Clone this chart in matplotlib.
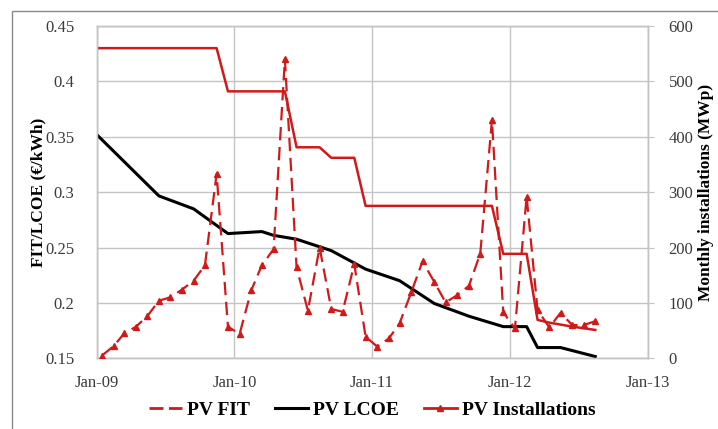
import matplotlib
matplotlib.use("Agg")
import matplotlib.pyplot as plt
import matplotlib.dates as mdates
from matplotlib.lines import Line2D
from matplotlib.patches import Rectangle
import pandas as pd

plt.rcParams['font.family'] = ['Liberation Serif', 'DejaVu Serif']

# ---- data ----
inst_dates = pd.date_range('2009-01-01', '2012-08-01', freq='MS') + pd.Timedelta(days=14)
inst_mw = [5, 22, 45, 57, 76, 104, 110, 124, 140, 168,
           333, 57, 44, 123, 168, 197, 540, 164, 86, 200,
           89, 84, 170, 39, 21, 36, 63, 119, 175, 138,
           101, 114, 131, 189, 430, 83, 54, 292, 87, 56,
           82, 60, 60, 67]

fit_dates = ['2009-01-01', '2009-11-15', '2009-12-15', '2010-05-15', '2010-06-15',
             '2010-08-15', '2010-09-15', '2010-11-15', '2010-12-15', '2011-11-15',
             '2011-12-15', '2012-02-15', '2012-03-15', '2012-04-15', '2012-06-15',
             '2012-08-15']
fit_vals = [0.430, 0.430, 0.391, 0.391, 0.3405,
            0.3405, 0.331, 0.331, 0.2876, 0.2876,
            0.2443, 0.2443, 0.1847, 0.1822, 0.1786,
            0.1756]

lcoe_dates = ['2009-01-01', '2009-06-15', '2009-09-15', '2009-12-15', '2010-03-15',
              '2010-04-15', '2010-06-15', '2010-09-15', '2010-12-15', '2011-03-15',
              '2011-06-15', '2011-09-15', '2011-12-15', '2012-02-15', '2012-03-15',
              '2012-05-15', '2012-08-15']
lcoe_vals = [0.352, 0.2966, 0.2849, 0.2626, 0.2644,
             0.2610, 0.2575, 0.2472, 0.2305, 0.2201,
             0.1995, 0.188, 0.1786, 0.1786, 0.1597,
             0.1597, 0.1516]

left_ticks = [0.15, 0.2, 0.25, 0.3, 0.35, 0.4, 0.45]
left_labels = ['0.15', '0.2', '0.25', '0.3', '0.35', '0.4', '0.45']
right_ticks = [0, 100, 200, 300, 400, 500, 600]
year_ticks = ['2009-01-01', '2010-01-01', '2011-01-01', '2012-01-01', '2013-01-01']

RED = '#d01a1a'
GRID = '#c4c4c4'
TXT = '#3a3a3a'

W, H = 718, 429
fig = plt.figure(figsize=(W / 100, H / 100), dpi=100)
ax = fig.add_axes([96.7 / W, 1 - 358.3 / H, (647.7 - 96.7) / W, (358.3 - 26) / H])
ax2 = ax.twinx()

ax.set_xlim(pd.Timestamp('2009-01-01'), pd.Timestamp('2013-01-01'))
ax.set_ylim(0.15, 0.45)
ax2.set_ylim(0, 600)

ax.set_xticks(pd.to_datetime(year_ticks))
ax.xaxis.set_major_formatter(mdates.DateFormatter('%b-%y'))
ax.set_yticks(left_ticks)
ax.set_yticklabels(left_labels)
ax2.set_yticks(right_ticks)

ax.grid(True, color=GRID, lw=1)
ax.set_axisbelow(True)
for a in (ax, ax2):
    for s in a.spines.values():
        s.set_color(GRID)
        s.set_linewidth(1)

ax.tick_params(axis='both', length=0, labelsize=12, labelcolor=TXT)
ax.tick_params(axis='y', pad=16)
ax.tick_params(axis='x', pad=12)
ax2.tick_params(axis='y', length=4, color=GRID, labelsize=12, labelcolor=TXT, pad=11)

ax.plot(pd.to_datetime(fit_dates), fit_vals, color=RED, lw=1.8, zorder=3)
ax.plot(pd.to_datetime(lcoe_dates), lcoe_vals, color='black', lw=2.2, zorder=3)
ax2.plot(inst_dates, inst_mw, color=RED, lw=1.6, ls=(0, (6, 3)), marker='^',
         markersize=5, zorder=4)

ax.set_ylabel('FIT/LCOE (€/kWh)', fontsize=12.5, fontweight='bold', labelpad=-1)
ax2.set_ylabel('Monthly installations (MWp)', fontsize=12.5, fontweight='bold', labelpad=3)

handles = [Line2D([], [], color=RED, lw=2, ls=(0, (5, 2))),
           Line2D([], [], color='black', lw=2.2),
           Line2D([], [], color=RED, lw=2, marker='^', markersize=5)]
fig.legend(handles, ['PV FIT', 'PV LCOE', 'PV Installations'], loc='center',
           bbox_to_anchor=(372 / W, 1 - 410 / H), ncol=3, frameon=False,
           prop={'size': 14, 'weight': 'bold'}, handlelength=1.7,
           handletextpad=0.25, columnspacing=1.3)

fig.patches.append(Rectangle((12 / W, -0.05), 1.2, 1 - 10.5 / H + 0.05,
                             transform=fig.transFigure, fill=False,
                             edgecolor='#8a8a8a', lw=1))

fig.savefig('out.png', dpi=100)
